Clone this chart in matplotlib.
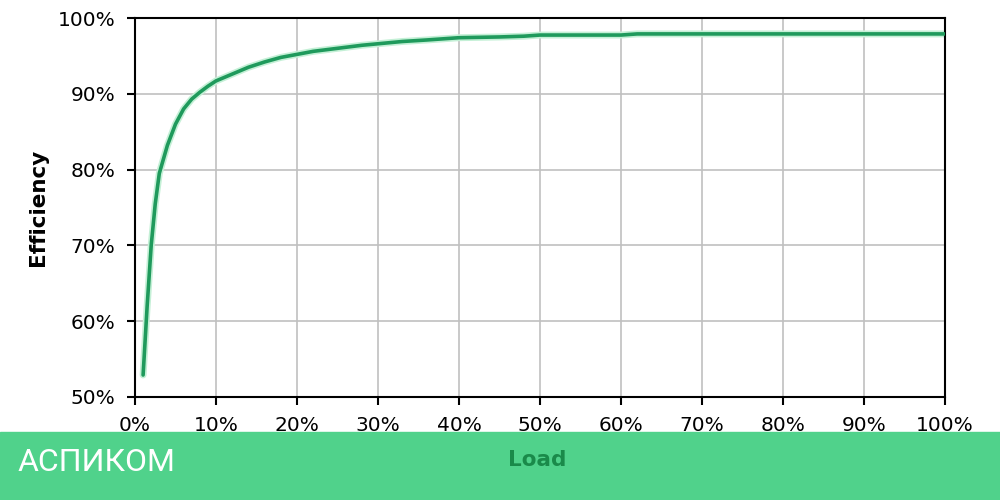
import matplotlib
matplotlib.use("Agg")
import matplotlib.pyplot as plt
from matplotlib.patches import Rectangle
from matplotlib.ticker import FuncFormatter

# load (%) vs efficiency (%)
load = [1, 1.5, 2, 2.5, 3, 4, 5, 6, 7, 8, 9, 10, 12, 14, 16, 18, 20, 22, 25,
        28, 30, 33, 36, 40, 45, 48, 50, 55, 60, 62, 70, 80, 90, 100]
efficiency = [52.9, 62, 70, 75.5, 79.5, 83.2, 86, 88, 89.3, 90.2, 91, 91.7, 92.6,
              93.5, 94.2, 94.8, 95.2, 95.6, 96.0, 96.4, 96.6, 96.9, 97.1, 97.4,
              97.5, 97.6, 97.75, 97.75, 97.75, 97.9, 97.9, 97.9, 97.9, 97.9]

x_ticks = list(range(0, 101, 10))
y_ticks = list(range(50, 101, 10))

plt.rcParams['font.family'] = ['DejaVu Sans']

fig = plt.figure(figsize=(10, 5), dpi=100)
ax = fig.add_axes([0.135, 0.206, 0.81, 0.758])

ax.plot(load, efficiency, color="#c4f0d6", lw=5, solid_capstyle="round", zorder=2)
ax.plot(load, efficiency, color="#1f9a5c", lw=2.6, solid_capstyle="round", zorder=3)

ax.set_xlim(0, 100)
ax.set_ylim(50, 100)
ax.set_xticks(x_ticks)
ax.set_yticks(y_ticks)
pct = FuncFormatter(lambda v, p: "%d%%" % v)
ax.xaxis.set_major_formatter(pct)
ax.yaxis.set_major_formatter(pct)
ax.grid(True, color="#c0c0c0", lw=1.2)
ax.set_axisbelow(True)
for s in ax.spines.values():
    s.set_linewidth(1.5)
    s.set_color("black")
ax.tick_params(direction="out", length=6, width=1.5, labelsize=14.5, pad=8)
ax.set_ylabel("Efficiency", fontsize=15.5, fontweight="bold", labelpad=7)

fig.patches.append(Rectangle((0, 0), 1, 0.136, transform=fig.transFigure,
                             color="#50d28b", zorder=10))
fig.text(0.018, 0.075, "АСПИКОМ", color="white", fontsize=23,
         family=["Roboto", "DejaVu Sans"], va="center", ha="left", zorder=11)
fig.text(0.537, 0.08, "Load", color="#1a8a4a", fontsize=15.5, fontweight="bold",
         va="center", ha="center", zorder=11)

fig.savefig("out.png", dpi=100)
